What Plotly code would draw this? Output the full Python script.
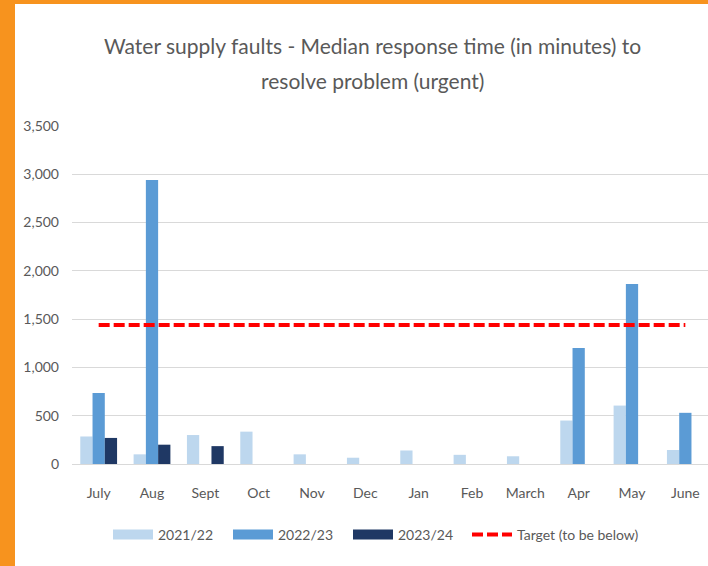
import plotly.graph_objects as go

months = ["July", "Aug", "Sept", "Oct", "Nov", "Dec", "Jan", "Feb", "March", "Apr", "May", "June"]
y2122 = [285, 100, 300, 335, 100, 65, 140, 95, 80, 450, 605, 145]
y2223 = [735, 2940, None, None, None, None, None, None, None, 1200, 1865, 530]
y2324 = [270, 200, 185, None, None, None, None, None, None, None, None, None]
target = [1440] * 12
yticks = [0, 500, 1000, 1500, 2000, 2500, 3000, 3500]
title_lines = ["Water supply faults - Median response time (in minutes) to",
               "resolve problem (urgent)"]
series_names = ["2021/22", "2022/23", "2023/24"]
series_colors = ["#BDD7EE", "#5B9BD5", "#1F3864"]
target_name = "Target (to be below)"

W, H = 712, 566
L, R, T, B = 72, 0, 126, 102
FONT = "Lato, Roboto, sans-serif"
GREY = "#595959"

pw = W - L - R
ph = H - T - B
def px_x(p):
    return (p - L) / pw
def px_y(p):
    return (H - B - p) / ph

fig = go.Figure()
legend_ids = ["legend", "legend2", "legend3", "legend4"]
for vals, name, col, lg in zip([y2122, y2223, y2324], series_names, series_colors, legend_ids):
    fig.add_bar(x=months, y=vals, name=name, marker_color=col, marker_line_width=0,
                showlegend=False, legendgroup=name)
    # legend swatch (wide rectangle like the original)
    fig.add_scatter(x=[None], y=[None], mode="lines", name=name, legendgroup=name,
                    line=dict(color=col, width=13), legend=lg, hoverinfo="skip")
fig.add_scatter(x=months, y=target, name=target_name, mode="lines", legend="legend4",
                line=dict(color="#FF0000", width=4, dash="11px,4px"))

annotations = [dict(text=t, xref="paper", yref="paper", x=px_x(372), y=px_y(yc),
                    xanchor="center", yanchor="middle", showarrow=False,
                    font=dict(family=FONT, size=21, color=GREY))
               for t, yc in zip(title_lines, [45, 80])]

legend_x = [108, 228, 348, 467]
legends = {}
for lg, lx in zip(legend_ids, legend_x):
    legends[lg] = dict(orientation="h", x=px_x(lx), xanchor="left", y=px_y(535), yanchor="middle",
                       font=dict(family=FONT, size=14, color=GREY), bgcolor="rgba(0,0,0,0)",
                       borderwidth=0, itemwidth=40)

fig.update_layout(
    width=W, height=H,
    margin=dict(l=L, r=R, t=T, b=B, pad=0),
    paper_bgcolor="#F7931E",
    plot_bgcolor="white",
    barmode="group", bargap=0.31, bargroupgap=0,
    font=dict(family=FONT, color=GREY, size=14),
    annotations=annotations,
    shapes=[dict(type="rect", xref="paper", yref="paper", layer="below",
                 x0=px_x(15), x1=px_x(W + 5), y0=px_y(H + 5), y1=px_y(4),
                 fillcolor="white", line_width=0)],
    xaxis=dict(showgrid=False, showline=True, linecolor="#D9D9D9", linewidth=1,
               ticks="outside", ticklen=16, tickcolor="rgba(0,0,0,0)",
               tickfont=dict(family=FONT, size=14, color=GREY)),
    yaxis=dict(range=[0, 3500], tickvals=yticks, tickformat=",", showgrid=True,
               gridcolor="#D9D9D9", gridwidth=1, zeroline=False, showline=False,
               ticklabelstandoff=12,
               tickfont=dict(family=FONT, size=14, color=GREY)),
    **legends,
)
fig.write_html("out.html", config={"displayModeBar": False},
               post_script=("document.body.style.margin='0';"
                            "document.body.style.overflow='hidden';"
                            "document.documentElement.style.overflow='hidden';"))
